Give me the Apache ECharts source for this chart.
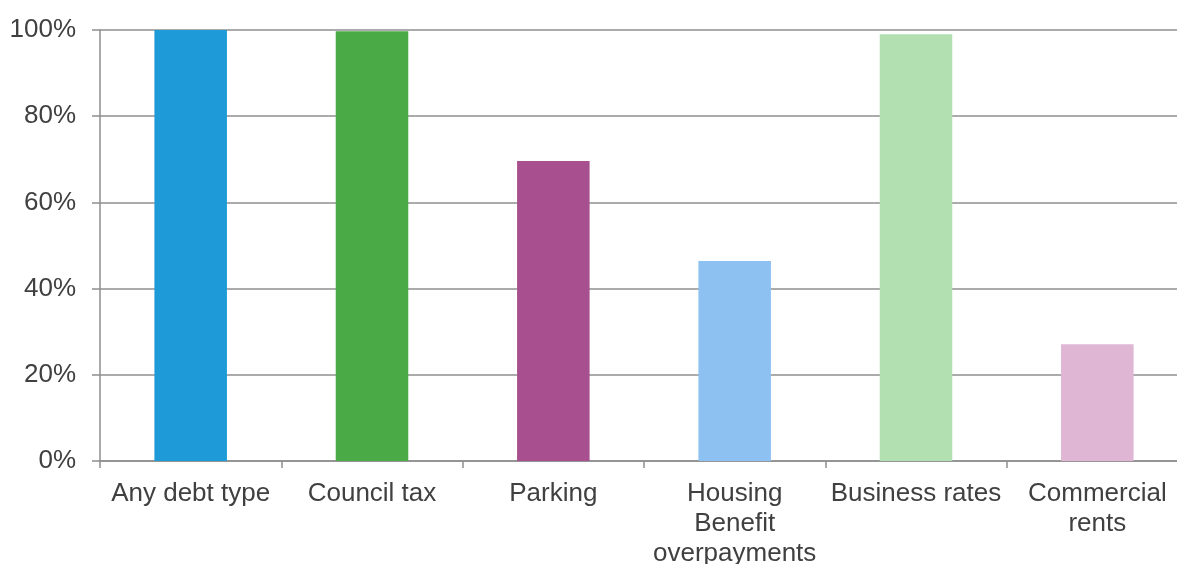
<!DOCTYPE html>
<html>
<head>
<meta charset="utf-8">
<script src="https://cdn.jsdelivr.net/npm/echarts@6/dist/echarts.min.js"></script>
<style>
html,body{margin:0;padding:0;background:#fff;overflow:hidden;}
#chart{width:1177px;height:564px;}
</style>
</head>
<body>
<div id="chart"></div>
<script>
const categories = ['Any debt type', 'Council tax', 'Parking', 'Housing\nBenefit\noverpayments', 'Business rates', 'Commercial\nrents'];
const values = [100, 99.7, 69.6, 46.4, 99.0, 27.1];
const barColors = ['#1E9AD8', '#4AAA45', '#A84F8F', '#8DC1F2', '#B2E0B0', '#DFB6D3'];
const yTicks = [0, 20, 40, 60, 80, 100];

const chart = echarts.init(document.getElementById('chart'), null, {renderer: 'canvas'});
const gridColor = '#8f8f8f';
const textColor = '#404040';
chart.setOption({
  animation: false,
  grid: {left: 100, top: 30, width: 1088, height: 431, containLabel: false, outerBoundsMode: 'none'},
  xAxis: {
    type: 'category',
    data: categories,
    axisLine: {show: true, lineStyle: {color: gridColor, width: 1.5}},
    axisTick: {show: true, length: 7, alignWithLabel: false, lineStyle: {color: gridColor, width: 1.5}},
    axisLabel: {color: textColor, fontFamily: 'Liberation Sans, Arial, sans-serif', fontSize: 26, lineHeight: 30, margin: 18, interval: 0}
  },
  yAxis: {
    type: 'value',
    min: yTicks[0],
    max: yTicks[yTicks.length - 1],
    interval: 20,
    axisLine: {show: true, lineStyle: {color: gridColor, width: 1.5}},
    axisTick: {show: true, length: 8, lineStyle: {color: gridColor, width: 1.5}},
    splitLine: {show: true, lineStyle: {color: gridColor, width: 1.5}},
    axisLabel: {color: textColor, fontFamily: 'Liberation Sans, Arial, sans-serif', fontSize: 26, margin: 24, formatter: v => v + '%'}
  },
  series: [{
    type: 'bar',
    barWidth: '40%',
    data: values.map((v, i) => ({value: v, itemStyle: {color: barColors[i]}})),
    z: 3
  }]
});
</script>
</body>
</html>
